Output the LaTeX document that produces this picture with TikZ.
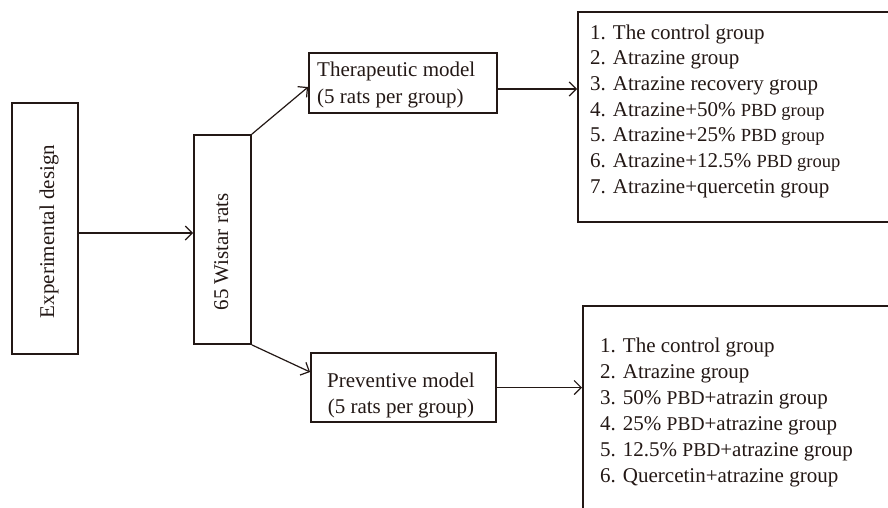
\documentclass[tikz,border=0pt]{standalone}
\usepackage{fontspec}
\setmainfont{Liberation Serif}
\usetikzlibrary{arrows.meta,calc}
\definecolor{ink}{HTML}{231815}
\newcommand\pbdsmall{\fontsize{18.5}{26}\selectfont}
\newcommand\pbdmid{\fontsize{19.5}{26}\selectfont}
\begin{document}
\begin{tikzpicture}[x=1pt,y=-1pt,
  box/.style={draw=ink, line width=1.8pt, inner sep=0pt},
  txt/.style={font=\fontsize{21}{26}\selectfont, text=ink, inner sep=0pt},
  conn/.style={draw=ink, line width=1.2pt, -{Straight Barb[length=7pt,width=14pt,line width=1.2pt]}}]
\useasboundingbox (0,0) rectangle (888,507);
\clip (0,0) rectangle (888,507);
\fill[white] (0,0) rectangle (888,507);

% boxes
\node[box, minimum width=66pt, minimum height=251pt] (exp) at (45,228.5) {};
\node[txt, rotate=90, anchor=base] (expt) at (54,231.5) {Experimental design};

\node[box, minimum width=57pt, minimum height=209pt] (wis) at (222.5,239.5) {};
\node[txt, rotate=90, anchor=base] (wist) at (228,252) {65 Wistar rats};

\node[box, minimum width=188pt, minimum height=60pt] (ther) at (403,83) {};
\node[txt, anchor=base west] (ther1) at (317,76.7) {Therapeutic model};
\node[txt, anchor=base west] (ther2) at (317,103) {(5 rats per group)};

\node[box, minimum width=185pt, minimum height=69pt] (prev) at (403.5,387.5) {};
\node[txt, anchor=base] (prev1) at (401,387) {Preventive model};
\node[txt, anchor=base] (prev2) at (401,413) {(5 rats per group)};

\node[box, anchor=north west, minimum width=400pt, minimum height=210pt] (lista) at (577,11) {};
\node[box, anchor=north west, minimum width=400pt, minimum height=300pt] (listb) at (582,305) {};

\foreach \t [count=\i] in {
  1. The control group,
  2. Atrazine group,
  3. Atrazine recovery group,
  4. Atrazine+50\% {\pbdsmall PBD group},
  5. Atrazine+25\% {\pbdsmall PBD group},
  6. Atrazine+12.5\% {\pbdsmall PBD group},
  7. Atrazine+quercetin group}
  \node[txt, anchor=base west] (a\i) at (590,{39+(\i-1)*25.7}) {\t};

\foreach \t [count=\i] in {
  1. The control group,
  2. Atrazine group,
  3. 50\% {\pbdmid PBD}+atrazin group,
  4. 25\% {\pbdmid PBD}+atrazine group,
  5. 12.5\% {\pbdmid PBD}+atrazine group,
  6. Quercetin+atrazine group}
  \node[txt, anchor=base west] (b\i) at (600,{352+(\i-1)*26}) {\t};

% connectors
\draw[conn] ([yshift=-4.5pt]exp.east) -- ([yshift=-4.5pt]exp.east -| wis.west);
\draw[conn] (wis.north east) -- ([yshift=-4pt]ther.west);
\draw[conn] ([yshift=-6pt]ther.east) -- ([yshift=-6pt]ther.east -| lista.west);
\draw[conn] (wis.south east) -- ([yshift=15.5pt]prev.west);
\draw[conn] (prev.east) -- (prev.east -| listb.west);
\end{tikzpicture}
\end{document}
